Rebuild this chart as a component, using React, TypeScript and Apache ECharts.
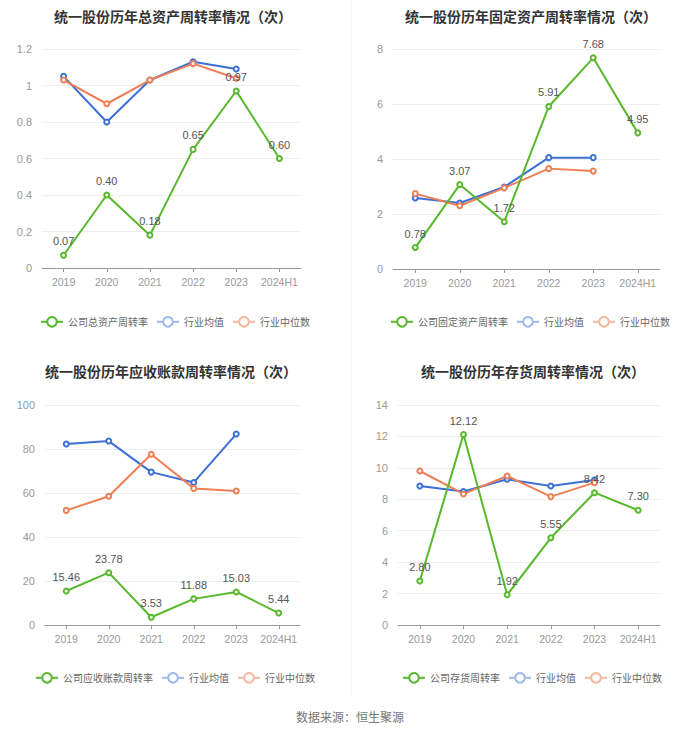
import React, { useEffect, useRef } from "react";
import * as echarts from "echarts";

const categories = ["2019", "2020", "2021", "2022", "2023", "2024H1"];

const titles = [
  "统一股份历年总资产周转率情况（次）",
  "统一股份历年固定资产周转率情况（次）",
  "统一股份历年应收账款周转率情况（次）",
  "统一股份历年存货周转率情况（次）",
];
const companyNames = ["公司总资产周转率", "公司固定资产周转率", "公司应收账款周转率", "公司存货周转率"];

const totalAssetCompany = [0.07, 0.4, 0.18, 0.65, 0.97, 0.6];
const totalAssetMean = [1.05, 0.8, 1.03, 1.13, 1.09, null];
const totalAssetMedian = [1.03, 0.9, 1.03, 1.12, 1.04, null];

const fixedAssetCompany = [0.78, 3.07, 1.72, 5.91, 7.68, 4.95];
const fixedAssetMean = [2.58, 2.4, 2.98, 4.05, 4.05, null];
const fixedAssetMedian = [2.74, 2.3, 2.95, 3.65, 3.56, null];

const receivableCompany = [15.46, 23.78, 3.53, 11.88, 15.03, 5.44];
const receivableMean = [82.3, 83.6, 69.5, 64.8, 86.8, null];
const receivableMedian = [52.1, 58.5, 77.6, 62.1, 60.9, null];

const inventoryCompany = [2.8, 12.12, 1.92, 5.55, 8.42, 7.3];
const inventoryMean = [8.85, 8.49, 9.27, 8.85, 9.23, null];
const inventoryMedian = [9.8, 8.34, 9.48, 8.17, 9.06, null];

const yMax = [1.2, 8, 100, 14];
const yInterval = [0.2, 2, 20, 2];

const GREEN = "#58b82c";
const BLUE = "#3d6fd6";
const ORANGE = "#ee7f55";

export default function App() {
  const ref = useRef<HTMLDivElement>(null);
  useEffect(() => {
    if (!ref.current) return;
    const chart = echarts.init(ref.current, null, { renderer: "svg" });
    const data = [
      [totalAssetCompany, totalAssetMean, totalAssetMedian],
      [fixedAssetCompany, fixedAssetMean, fixedAssetMedian],
      [receivableCompany, receivableMean, receivableMedian],
      [inventoryCompany, inventoryMean, inventoryMedian],
    ];
    const grids = [
      { left: 42, top: 49, width: 259, height: 219 },
      { left: 393, top: 49, width: 267, height: 220 },
      { left: 45, top: 405, width: 255, height: 220 },
      { left: 398, top: 405, width: 262, height: 220 },
    ];
    const titleCenters = [
      [168, 4],
      [526, 4],
      [166, 359],
      [528, 359],
    ];
    const legendPos = [
      [40, 316],
      [390, 316],
      [35, 672],
      [402, 672],
    ];
    const series: any[] = [];
    data.forEach((d, i) => {
      series.push({
        name: companyNames[i],
        type: "line",
        xAxisIndex: i,
        yAxisIndex: i,
        data: d[0],
        symbol: "emptyCircle",
        symbolSize: 5,
        lineStyle: { color: GREEN, width: 2 },
        itemStyle: { color: GREEN },
        label: {
          show: true,
          position: "top",
          color: "#555",
          fontSize: 11,
          formatter: (p: any) => Number(p.value).toFixed(2),
        },
        z: 3,
      });
      series.push({
        name: "行业均值",
        type: "line",
        xAxisIndex: i,
        yAxisIndex: i,
        data: d[1],
        symbol: "emptyCircle",
        symbolSize: 5,
        lineStyle: { color: BLUE, width: 2 },
        itemStyle: { color: BLUE },
        z: 2,
      });
      series.push({
        name: "行业中位数",
        type: "line",
        xAxisIndex: i,
        yAxisIndex: i,
        data: d[2],
        symbol: "emptyCircle",
        symbolSize: 5,
        lineStyle: { color: ORANGE, width: 2 },
        itemStyle: { color: ORANGE },
        z: 2,
      });
    });
    chart.setOption({
      animation: false,
      backgroundColor: "#fff",
      title: titles.map((t, i) => ({
        text: t,
        left: titleCenters[i][0],
        top: titleCenters[i][1],
        textAlign: "center",
        textStyle: { fontSize: 14, fontWeight: "bold", color: "#333", fontFamily: "Noto Sans CJK SC" },
      })),
      legend: companyNames.map((n, i) => ({
        left: legendPos[i][0],
        top: legendPos[i][1],
        width: 330,
        padding: 0,
        orient: "horizontal",
        itemWidth: 22,
        itemHeight: 12,
        itemGap: 8,
        textStyle: { fontSize: 10, color: "#666", fontFamily: "Noto Sans CJK SC" },
        data: [
          { name: n, itemStyle: { color: GREEN, borderColor: GREEN }, lineStyle: { color: GREEN } },
          { name: "行业均值", itemStyle: { color: "#9fb8ec", borderColor: "#9fb8ec" }, lineStyle: { color: "#9fb8ec" } },
          { name: "行业中位数", itemStyle: { color: "#f5b79f", borderColor: "#f5b79f" }, lineStyle: { color: "#f5b79f" } },
        ],
        selectedMode: false,
      })),
      grid: grids,
      xAxis: grids.map((_, i) => ({
        type: "category",
        gridIndex: i,
        data: categories,
        axisLine: { lineStyle: { color: "#999" } },
        axisTick: { show: true, alignWithLabel: true, length: 4, lineStyle: { color: "#999" } },
        axisLabel: { color: "#999", fontSize: 10.5, margin: 8, interval: 0 },
      })),
      yAxis: grids.map((_, i) => ({
        type: "value",
        gridIndex: i,
        min: 0,
        max: yMax[i],
        interval: yInterval[i],
        axisLine: { show: false },
        axisTick: { show: false },
        axisLabel: { color: "#999", fontSize: 11, margin: 10 },
        splitLine: { lineStyle: { color: "#eeeeee" } },
      })),
      graphic: [
        {
          type: "line",
          shape: { x1: 351.5, y1: 0, x2: 351.5, y2: 695 },
          style: { stroke: "#f2f2f2", lineWidth: 1 },
        },
        {
          type: "text",
          left: "center",
          top: 710,
          style: { text: "数据来源：恒生聚源", fill: "#777", fontSize: 12, fontFamily: "Noto Sans CJK SC" },
        },
      ],
      series,
    });
    return () => chart.dispose();
  }, []);
  return (
    <div
      ref={ref}
      style={{ position: "absolute", left: 0, top: 0, width: 700, height: 734 }}
    />
  );
}
